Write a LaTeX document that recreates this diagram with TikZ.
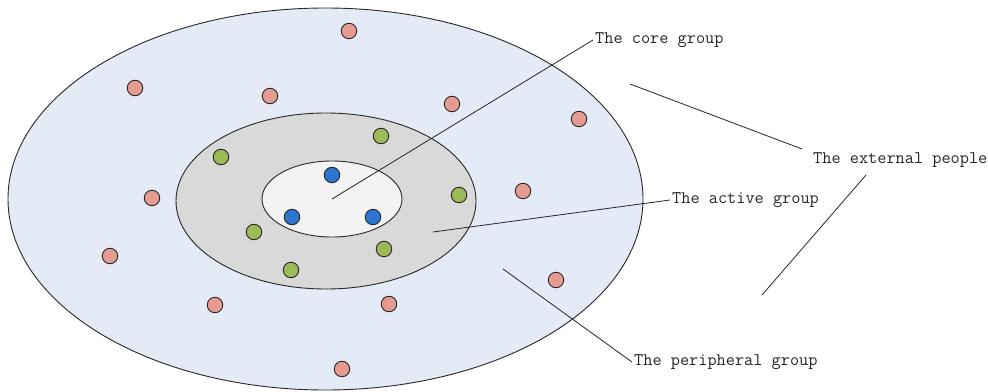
\documentclass[tikz,border=0pt]{standalone}
\usepackage{fontspec}
\definecolor{outerc}{RGB}{228,235,247}
\definecolor{midc}{RGB}{217,217,217}
\definecolor{innerc}{RGB}{243,243,243}
\definecolor{pinkc}{RGB}{230,155,145}
\definecolor{greenc}{RGB}{155,187,89}
\definecolor{bluec}{RGB}{46,117,208}
\definecolor{edgec}{RGB}{40,40,40}
\begin{document}
\begin{tikzpicture}[x=1pt,y=-1pt,
  ring/.style={draw=edgec,line width=0.9pt},
  dot/.style={circle,draw=edgec,line width=0.9pt,minimum size=15.5pt,inner sep=0pt},
  pinkdot/.style={dot,fill=pinkc},
  greendot/.style={dot,fill=greenc},
  bluedot/.style={dot,fill=bluec},
  lbl/.style={anchor=west,inner sep=2pt,text=black!85,font=\ttfamily\fontsize{17.8}{20}\selectfont},
  leader/.style={draw=black!85,line width=0.8pt}]
\useasboundingbox (0,0) rectangle (988,391);
\fill[white] (0,0) rectangle (988,391);
% rings
\draw[ring,fill=outerc] (325.5,199) ellipse [x radius=317.5, y radius=191];
\draw[ring,fill=midc] (326,201) ellipse [x radius=150, y radius=88];
\draw[ring,fill=innerc] (332,199) ellipse [x radius=70, y radius=38];
% peripheral dots
\node[pinkdot] (p1) at (349,31) {};
\node[pinkdot] (p2) at (135,88) {};
\node[pinkdot] (p3) at (270,96) {};
\node[pinkdot] (p4) at (452,104) {};
\node[pinkdot] (p5) at (579,119) {};
\node[pinkdot] (p6) at (152,198) {};
\node[pinkdot] (p7) at (523,191) {};
\node[pinkdot] (p8) at (110,256) {};
\node[pinkdot] (p9) at (215,305) {};
\node[pinkdot] (p10) at (389,304) {};
\node[pinkdot] (p11) at (556,280) {};
\node[pinkdot] (p12) at (342,369) {};
% active dots
\node[greendot] (g1) at (221,157) {};
\node[greendot] (g2) at (381,136) {};
\node[greendot] (g3) at (459,195) {};
\node[greendot] (g4) at (254,232) {};
\node[greendot] (g5) at (384,249) {};
\node[greendot] (g6) at (291,270) {};
% core dots
\node[bluedot] (b1) at (332,175) {};
\node[bluedot] (b2) at (292,217) {};
\node[bluedot] (b3) at (373,217) {};
% labels
\node[lbl] (core) at (593,40) {The core group};
\node[lbl] (active) at (670,200) {The active group};
\node[lbl] (external) at (811,160) {The external people};
\node[lbl] (periph) at (632,362) {The peripheral group};
% leader anchors
\coordinate (cc) at (332,199);
\coordinate (ac) at (433,232);
\coordinate (pc) at (503,269);
\coordinate (e1a) at (630,84);
\coordinate (e1b) at (802,149);
\coordinate (e2a) at (866,175);
\coordinate (e2b) at (762,295);
\draw[leader] (cc) -- (core.west);
\draw[leader] (ac) -- (active.west);
\draw[leader] (pc) -- (periph.west);
\draw[leader] (e1a) -- (e1b);
\draw[leader] (e2a) -- (e2b);
\end{tikzpicture}
\end{document}
